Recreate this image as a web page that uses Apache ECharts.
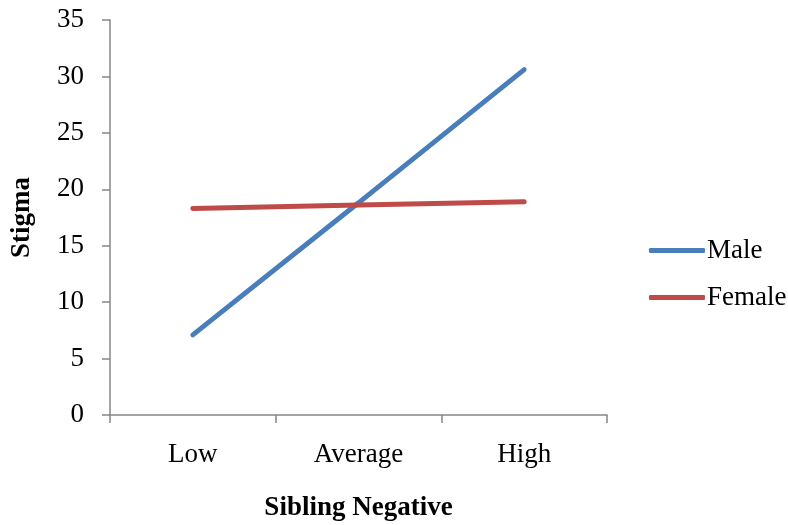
<!DOCTYPE html>
<html>
<head>
<meta charset="utf-8">
<script src="https://cdn.jsdelivr.net/npm/echarts@6/dist/echarts.min.js"></script>
<style>html,body{margin:0;padding:0;background:#fff;}#c{width:788px;height:525px;}</style>
</head>
<body>
<div id="c"></div>
<script>
const categories = ['Low', 'Average', 'High'];
const maleValues = [7.1, 18.8, 30.6];
const femaleValues = [18.3, 18.6, 18.9];
const yTicks = { min: 0, max: 35, interval: 5 };

const FONT = 'Liberation Serif';
const chart = echarts.init(document.getElementById('c'), null, { renderer: 'canvas' });
chart.setOption({
  backgroundColor: '#fff',
  animation: false,
  grid: { left: 110, right: 181, top: 20, bottom: 110, containLabel: false, outerBoundsMode: 'none' },
  legend: {
    orient: 'vertical', left: 644, top: 232, itemWidth: 56, itemHeight: 5, itemGap: 20,
    icon: 'roundRect',
    textStyle: { fontFamily: FONT, fontSize: 27, color: '#000', padding: [0, 0, 0, -3] },
    data: ['Male', 'Female']
  },
  xAxis: {
    type: 'category', data: categories, boundaryGap: true,
    name: 'Sibling Negative', nameLocation: 'middle', nameGap: 80,
    nameTextStyle: { fontFamily: FONT, fontSize: 27, fontWeight: 'bold', color: '#000' },
    axisLine: { lineStyle: { color: '#868686', width: 1.5 } },
    axisTick: { show: true, length: 8, lineStyle: { color: '#868686', width: 1.5 } },
    axisLabel: { fontFamily: FONT, fontSize: 27, color: '#000', margin: 26 },
    splitLine: { show: false }
  },
  yAxis: {
    type: 'value', min: yTicks.min, max: yTicks.max, interval: yTicks.interval,
    name: 'Stigma', nameLocation: 'middle', nameGap: 74, nameRotate: 90,
    nameTextStyle: { fontFamily: FONT, fontSize: 27, fontWeight: 'bold', color: '#000' },
    axisLine: { show: true, lineStyle: { color: '#868686', width: 1.5 } },
    axisTick: { show: true, length: 8, lineStyle: { color: '#868686', width: 1.5 } },
    axisLabel: { fontFamily: FONT, fontSize: 27, color: '#000', margin: 26 },
    splitLine: { show: false }
  },
  series: [
    { name: 'Male', type: 'line', data: maleValues, symbol: 'none', color: '#4A7EBB',
      lineStyle: { width: 5, color: '#4A7EBB', cap: 'round' } },
    { name: 'Female', type: 'line', data: femaleValues, symbol: 'none', color: '#BE4B48',
      lineStyle: { width: 5, color: '#BE4B48', cap: 'round' } }
  ]
});
</script>
</body>
</html>
